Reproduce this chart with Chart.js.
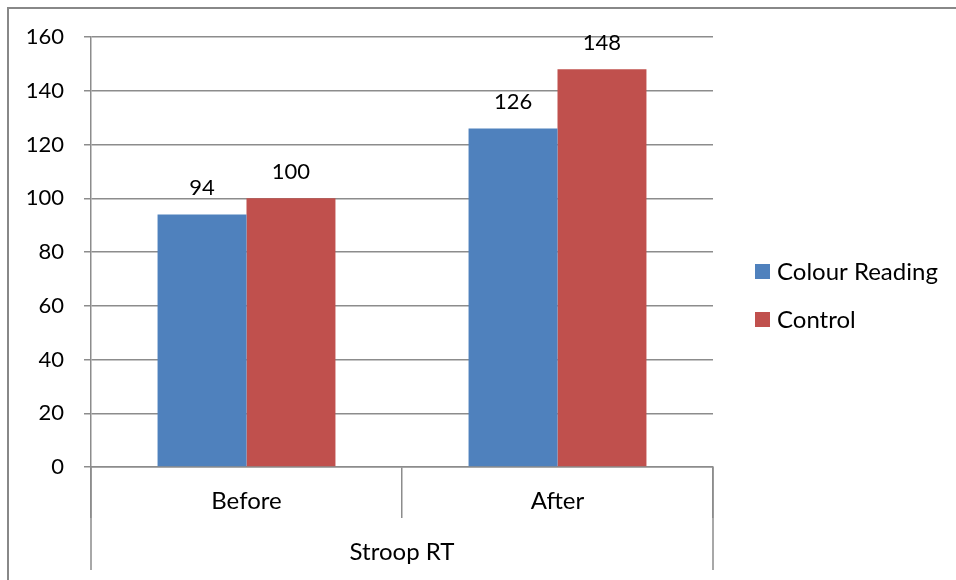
<!DOCTYPE html>
<html>
<head>
<meta charset="utf-8">
<title>Stroop RT</title>
<script src="https://cdn.jsdelivr.net/npm/chart.js@4.4.1/dist/chart.umd.min.js"></script>
<style>
  html, body { margin: 0; padding: 0; background: #fff; }
  canvas { display: block; }
</style>
</head>
<body>
<canvas id="stroop-chart" width="956" height="580"></canvas>
<script>
// data
const categories = ["Before", "After"];
const groupLabel = "Stroop RT";
const colourReading = [94, 126];
const control = [100, 148];
const yTicks = [0, 20, 40, 60, 80, 100, 120, 140, 160];

const lineColor = "#8c8c8c";
const fontFamily = "Lato, 'Noto Sans', sans-serif";
const numberFont = "22px " + fontFamily; // digits
const textFont = "24px " + fontFamily;   // words

Chart.defaults.font.family = fontFamily;
Chart.defaults.font.size = 22;
Chart.defaults.color = "#000";

// draws the border, value labels, the second axis row and the legend
const extras = {
  id: "extras",
  beforeDraw(chart) {
    const ctx = chart.ctx;
    ctx.save();
    ctx.fillStyle = "#fff";
    ctx.fillRect(0, 0, chart.width, chart.height);
    ctx.strokeStyle = "#888";
    ctx.lineWidth = 2;
    ctx.beginPath();
    ctx.moveTo(8, chart.height);
    ctx.lineTo(8, 8);
    ctx.lineTo(chart.width, 8);
    ctx.stroke();
    ctx.restore();
  },
  afterDraw(chart) {
    const ctx = chart.ctx;
    const area = chart.chartArea;
    ctx.save();

    // value labels
    ctx.font = numberFont;
    ctx.fillStyle = "#000";
    ctx.textAlign = "center";
    ctx.textBaseline = "alphabetic";
    chart.data.datasets.forEach((ds, i) => {
      chart.getDatasetMeta(i).data.forEach((bar, j) => {
        ctx.fillText(ds.data[j], bar.x, bar.y - 19);
      });
    });

    // outer separators of the group row
    ctx.strokeStyle = lineColor;
    ctx.lineWidth = 1.5;
    ctx.beginPath();
    [area.left, area.right].forEach(x => {
      ctx.moveTo(x, area.bottom);
      ctx.lineTo(x, 570);
    });
    ctx.stroke();

    // group label
    ctx.font = textFont;
    ctx.textBaseline = "middle";
    ctx.fillText(groupLabel, (area.left + area.right) / 2, 552);

    // legend
    ctx.textAlign = "left";
    chart.data.datasets.forEach((ds, i) => {
      const y = 264 + i * 48;
      ctx.fillStyle = ds.backgroundColor;
      ctx.fillRect(755, y, 15, 15);
      ctx.fillStyle = "#000";
      ctx.fillText(ds.label, 777, y + 8);
    });
    ctx.restore();
  }
};

const stroopData = {
  labels: categories,
  datasets: [
    {
      label: "Colour Reading",
      data: colourReading,
      backgroundColor: "#4F81BD",
      categoryPercentage: 0.572,
      barPercentage: 1.0,
    },
    {
      label: "Control",
      data: control,
      backgroundColor: "#C0504D",
      categoryPercentage: 0.572,
      barPercentage: 1.0,
    },
  ],
};

const stroopConfig = {
  type: "bar",
  data: stroopData,
  options: {
    responsive: false,
    animation: false,
    layout: {
      padding: { left: 0, top: 37, right: 243, bottom: 0 },
    },
    plugins: {
      legend: { display: false },
      tooltip: { enabled: false },
    },
    scales: {
      x: {
        grid: {
          offset: true,
          drawOnChartArea: false,
          drawTicks: true,
          tickLength: 51,
          color: lineColor,
          lineWidth: 1.5,
        },
        border: { color: lineColor, width: 1.5 },
        ticks: { padding: -31, color: "#000", font: { size: 24 } },
        afterFit: (scale) => { scale.height = 113; },
      },
      y: {
        min: 0,
        max: 160,
        afterBuildTicks: (scale) => { scale.ticks = yTicks.map(v => ({ value: v })); },
        grid: {
          color: lineColor,
          lineWidth: 1.5,
          tickLength: 7,
        },
        border: { color: lineColor, width: 1.5 },
        ticks: { padding: 20, color: "#000" },
        afterFit: (scale) => { scale.width = 91; },
      },
    },
  },
  plugins: [extras],
};

const stroopChart = new Chart(document.getElementById("stroop-chart"), stroopConfig);
</script>
</body>
</html>
